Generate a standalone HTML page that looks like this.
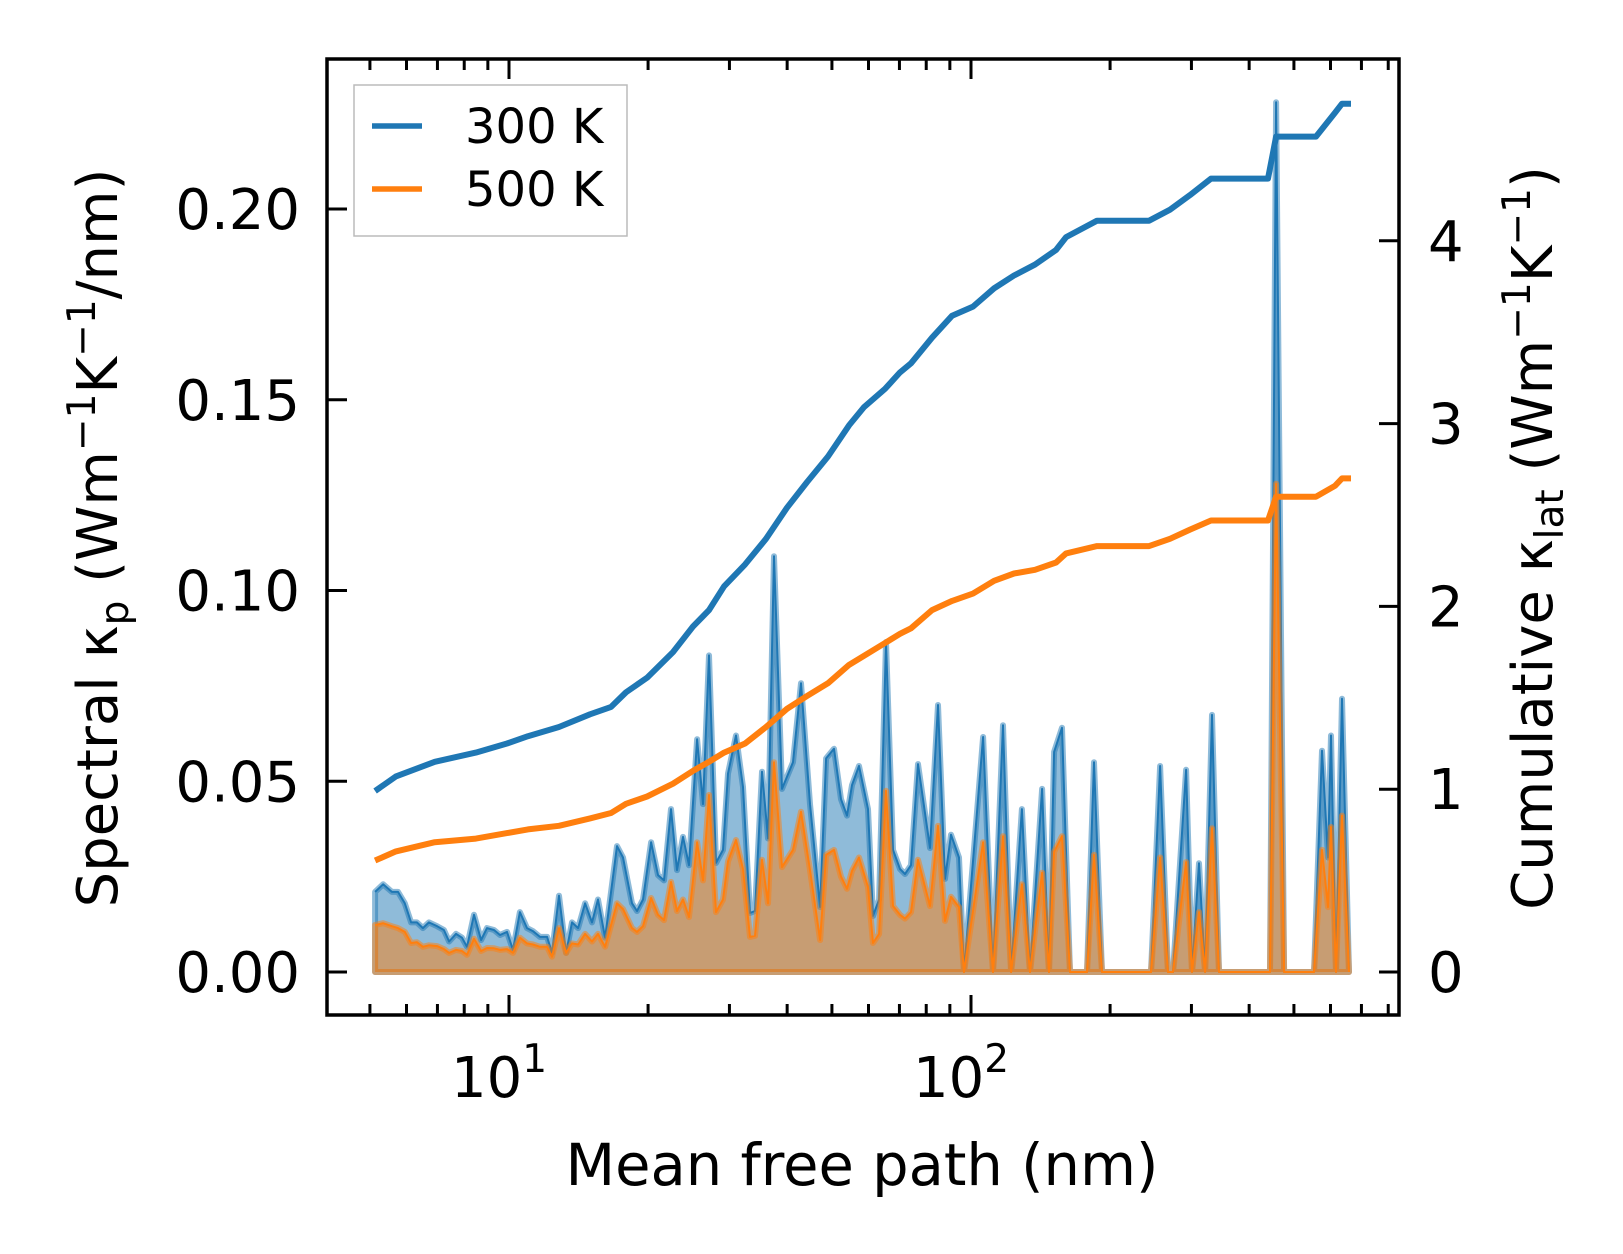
<!DOCTYPE html>
<html><head><meta charset="utf-8"><style>
body{margin:0;background:#fff}
svg{display:block}
text{font-family:"DejaVu Sans","Liberation Sans",sans-serif;fill:#000}
</style></head><body>
<svg id="chart" width="1623" height="1254" viewBox="0 0 1623 1254" xmlns="http://www.w3.org/2000/svg">
<rect width="1623" height="1254" fill="#fff"/>
<g id="plot"></g>
<rect x="327" y="59" width="1072" height="956" fill="none" stroke="#000" stroke-width="3.5"/>
<g id="axes"></g>
<text x="862" y="1185" font-size="57.5" text-anchor="middle">Mean free path (nm)</text>
<text transform="translate(117,538) rotate(-90)" font-size="56" text-anchor="middle">Spectral κ<tspan font-size="39" dy="11">p</tspan><tspan dy="-11"> (Wm</tspan><tspan font-size="39" dy="-22">−1</tspan><tspan dy="22">K</tspan><tspan font-size="39" dy="-22">−1</tspan><tspan dy="22">/nm)</tspan></text>
<text transform="translate(1552,538) rotate(-90)" font-size="56" text-anchor="middle">Cumulative κ<tspan font-size="39" dy="11">lat</tspan><tspan dy="-11"> (Wm</tspan><tspan font-size="39" dy="-22">−1</tspan><tspan dy="22">K</tspan><tspan font-size="39" dy="-22">−1</tspan><tspan dy="22">)</tspan></text>
<g>
<rect x="354" y="85" width="273" height="151" fill="#fff" fill-opacity="0.8" stroke="#bbb" stroke-width="1.5"/>
<line x1="372" y1="126" x2="422" y2="126" stroke="#1f77b4" stroke-width="5.5"/>
<text x="465" y="143" font-size="48">300 K</text>
<line x1="372" y1="189" x2="422" y2="189" stroke="#ff7f0e" stroke-width="5.5"/>
<text x="465" y="206" font-size="48">500 K</text>
</g>
</svg>
<script>
const mfp=[5.13,5.34,5.58,5.75,5.95,6.14,6.32,6.51,6.71,6.99,7.23,7.42,7.68,7.91,8.11,8.40,8.70,8.96,9.28,9.56,9.90,10.2,10.56,10.94,11.27,11.67,12.09,12.39,12.83,13.29,13.69,14.11,14.61,15.12,15.58,16.14,17.13,17.65,18.46,18.93,19.50,20.30,21.01,21.65,22.42,23.10,23.80,24.53,25.53,26.30,27.10,28.06,29.06,29.79,31.00,32.10,33.24,34.08,35.29,36.36,37.47,38.99,41.19,42.86,44.83,47.13,48.56,50.53,52.32,53.91,55.27,57.23,59.86,61.37,63.24,65.46,67.79,70.20,71.97,74.16,76.80,81.53,84.84,87.85,90.52,94.19,96.56,106.2,111.6,117.3,122.1,128.9,134.2,142.5,147.5,151.3,157.4,163.8,178.3,184.6,192.1,245.3,256.6,267.0,273.7,292.1,300.9,311.6,321.1,332.4,344.2,443.9,457.4,476.0,552.6,575.1,592.6,601.5,616.6,635.3,657.9];
const spec300=[.021,.023,.021,.021,.018,.013,.013,.0115,.013,.012,.011,.008,.010,.009,.0066,.015,.0084,.0115,.011,.0097,.0105,.0058,.0157,.0115,.0107,.0092,.0092,.005,.020,.005,.013,.0115,.018,.013,.019,.009,.033,.030,.018,.016,.019,.034,.0254,.024,.0427,.0267,.0354,.028,.061,.044,.083,.0286,.032,.052,.062,.0485,.0155,.016,.0525,.035,.109,.048,.055,.0757,.044,.017,.056,.0585,.0453,.041,.049,.054,.0427,.0147,.019,.0865,.032,.027,.0257,.028,.0545,.0325,.070,.0244,.036,.030,0,.0616,0,.0647,0,.0427,0,.048,0,.0577,.064,0,0,.055,0,0,.054,0,0,.053,0,.0285,0,.0674,0,0,.228,0,0,.058,.030,.062,0,.0716,0];
const spec500=[.0123,.0128,.012,.0115,.0105,.0076,.0078,.0066,.007,.0068,.006,.005,.0058,.0055,.0045,.0087,.0055,.0063,.0062,.0058,.006,.005,.009,.0075,.0072,.0066,.0066,.004,.0115,.005,.0075,.0072,.010,.008,.010,.0066,.018,.0165,.0115,.0105,.012,.0194,.015,.0136,.0236,.016,.019,.0144,.034,.024,.0464,.0157,.019,.029,.0346,.027,.0092,.0095,.0294,.018,.055,.0275,.032,.042,.0267,.0084,.0307,.032,.025,.0218,.0265,.030,.0223,.0076,.010,.0475,.0173,.015,.014,.0157,.0294,.0173,.0383,.0134,.0197,.017,0,.034,0,.0356,0,.023,0,.026,0,.0315,.0356,0,0,.0307,0,0,.030,0,0,.0288,0,.0157,0,.0377,0,0,.128,0,0,.032,.017,.038,0,.041,0];
const cumMfp=[5.13,5.69,6.91,8.48,9.90,10.99,12.83,14.97,16.63,17.92,19.90,22.65,25.02,27.10,29.21,32.43,36.0,39.97,44.16,49.03,54.44,58.67,65.13,70.2,74.16,82.34,90.99,101.0,112.2,123.9,137.6,152.8,160.6,187.4,242.9,269.6,297.9,330.8,439.5,457.4,558.2,613.7,635.3,664.5];
const cum300=[0.99,1.07,1.15,1.20,1.25,1.29,1.34,1.41,1.45,1.53,1.61,1.75,1.89,1.98,2.11,2.23,2.37,2.54,2.68,2.82,2.99,3.09,3.19,3.28,3.33,3.47,3.59,3.64,3.74,3.81,3.87,3.95,4.02,4.11,4.11,4.17,4.25,4.34,4.34,4.57,4.57,4.70,4.75,4.75];
const cum500=[0.61,0.66,0.71,0.73,0.76,0.78,0.80,0.84,0.87,0.92,0.96,1.03,1.10,1.15,1.20,1.25,1.34,1.44,1.51,1.58,1.68,1.73,1.80,1.85,1.88,1.98,2.03,2.07,2.14,2.18,2.20,2.24,2.29,2.33,2.33,2.37,2.42,2.47,2.47,2.60,2.60,2.66,2.70,2.70];
const leftTicks=[0,0.05,0.10,0.15,0.20];
const leftTickLabels=["0.00","0.05","0.10","0.15","0.20"];
const rightTicks=[0,1,2,3,4];
const rightTickLabels=["0","1","2","3","4"];
const xMajor=[10,100];
const xMajorExp=["1","2"];

const NS="http://www.w3.org/2000/svg";
const X0=327,X1=1399,Y0=59,Y1=1015;
function xs(v){return 509+(Math.log10(v)-1)*462;}
function yl(v){return 972-v*3815;}
function yr(v){return 972-v*182.8;}
function mk(tag,attrs,parent){const e=document.createElementNS(NS,tag);for(const k in attrs)e.setAttribute(k,attrs[k]);parent.appendChild(e);return e;}
const plot=document.getElementById('plot'),axes=document.getElementById('axes');

function area(vals,color,name){
  let d='M'+xs(mfp[0])+','+yl(0);
  mfp.forEach((m,i)=>{d+=' L'+xs(m).toFixed(1)+','+yl(vals[i]).toFixed(1);});
  d+=' L'+xs(mfp[mfp.length-1])+','+yl(0)+' Z';
  const a=mk('path',{d:d,fill:color,'fill-opacity':0.5,stroke:color,'stroke-opacity':0.5,'stroke-width':6,'stroke-linejoin':'round'},plot);
  
  
  const pts=mfp.map((m,i)=>xs(m).toFixed(1)+','+yl(vals[i]).toFixed(1)).join(' ');
  const l=mk('polyline',{points:pts,fill:'none',stroke:color,'stroke-width':2,'stroke-linejoin':'round'},plot);
  
  
}
area(spec300,'#1f77b4','spectral-300k');
area(spec500,'#ff7f0e','spectral-500k');
function cum(vals,color,name){
  const pts=cumMfp.map((m,i)=>xs(m).toFixed(1)+','+yr(vals[i]).toFixed(1)).join(' ');
  const l=mk('polyline',{points:pts,fill:'none',stroke:color,'stroke-width':6,'stroke-linejoin':'round'},plot);
  
  
}
cum(cum300,'#1f77b4','cumulative-300k-line');
cum(cum500,'#ff7f0e','cumulative-500k-line');

leftTicks.forEach((v,i)=>{
  const y=yl(v);
  mk('line',{x1:X0,y1:y,x2:X0+20,y2:y,stroke:'#000','stroke-width':3},axes);
  const t=mk('text',{x:300,y:y+20,'font-size':56,'text-anchor':'end'},axes);
  t.textContent=leftTickLabels[i];
  
  
});
rightTicks.forEach((v,i)=>{
  const y=yr(v);
  mk('line',{x1:X1,y1:y,x2:X1-20,y2:y,stroke:'#000','stroke-width':3},axes);
  const t=mk('text',{x:1428,y:y+20,'font-size':56},axes);
  t.textContent=rightTickLabels[i];
  
  
});
for(let dec=0;dec<=2;dec++){
  for(let k=1;k<10;k++){
    const v=k*Math.pow(10,dec);const x=xs(v);
    if(x<X0+2||x>X1-2)continue;
    const len=k===1?20:11;
    mk('line',{x1:x,y1:Y1,x2:x,y2:Y1-len,stroke:'#000','stroke-width':3},axes);
    mk('line',{x1:x,y1:Y0,x2:x,y2:Y0+len,stroke:'#000','stroke-width':3},axes);
  }
}
xMajor.forEach((v,i)=>{
  const t=mk('text',{x:xs(v)-10,y:1097,'font-size':56,'text-anchor':'middle'},axes);
  t.textContent='10';
  const s=mk('tspan',{'font-size':39,dy:-25},t);
  s.textContent=xMajorExp[i];
  
  
});
</script>
</body></html>
